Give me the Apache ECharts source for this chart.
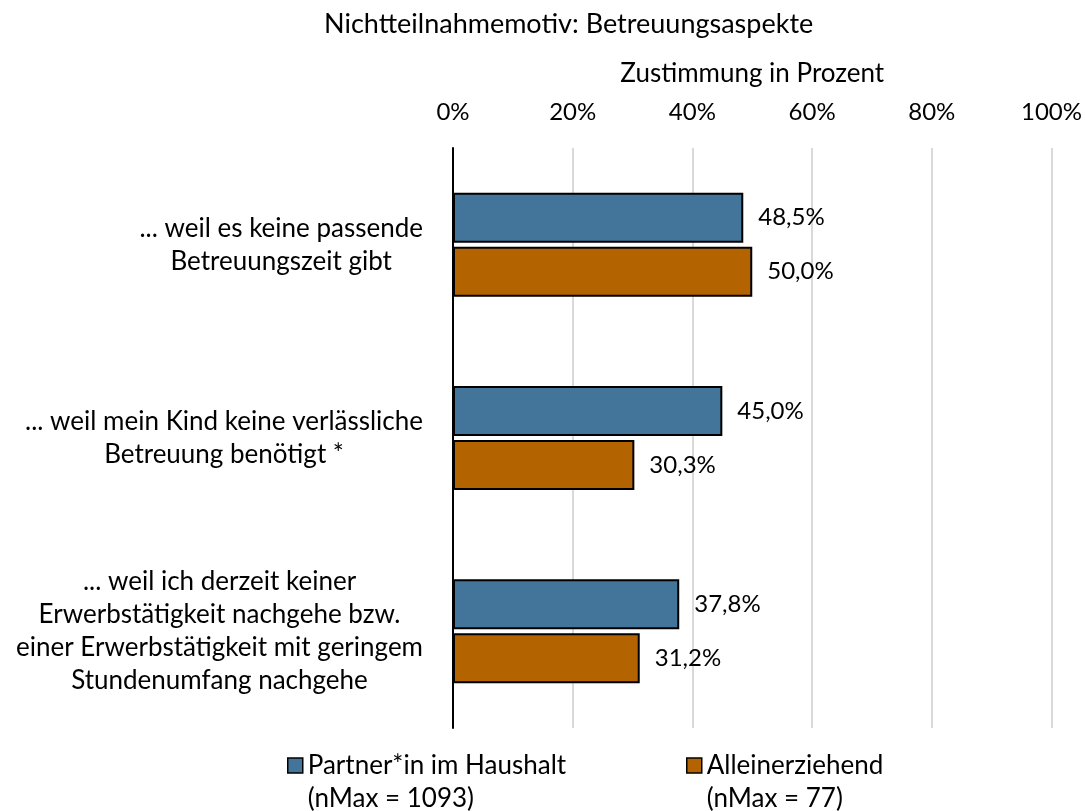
<!DOCTYPE html>
<html>
<head>
<meta charset="utf-8">
<script src="https://cdn.jsdelivr.net/npm/echarts@6/dist/echarts.min.js"></script>
<style>
html,body{margin:0;padding:0;background:#fff;}
#chart{width:1085px;height:811px;}
</style>
</head>
<body>
<div id="chart"></div>
<script>
const categories = [
  '... weil es keine passende\nBetreuungszeit gibt',
  '... weil mein Kind keine verlässliche\nBetreuung benötigt *',
  '... weil ich derzeit keiner\nErwerbstätigkeit nachgehe bzw.\neiner Erwerbstätigkeit mit geringem\nStundenumfang nachgehe'
];
const seriesNames = ['Partner*in im Haushalt', 'Alleinerziehend'];
const seriesNotes = ['(nMax = 1093)', '(nMax = 77)'];
const partnerValues = [48.5, 45.0, 37.8];
const alleinValues = [50.0, 30.3, 31.2];
const tickValues = [0, 20, 40, 60, 80, 100];

const FONT = 'Lato, "Open Sans", sans-serif';
const FS = 26;      // text size
const FSN = 24;     // numeric labels
const colors = ['#43749a', '#b36400'];

const chart = echarts.init(document.getElementById('chart'));

function fmtPct(v){ return v.toFixed(1).replace('.', ',') + '%'; }

function makeSeries(idx, values){
  return {
    type: 'bar',
    name: seriesNames[idx],
    data: values,
    barWidth: 50,
    barGap: '8%',
    itemStyle: { color: colors[idx], borderColor: '#000', borderWidth: 2 },
    label: {
      show: true, position: 'right', distance: 15,
      fontFamily: FONT, fontSize: FSN, color: '#000',
      formatter: p => fmtPct(p.value)
    }
  };
}

function makeLegend(idx, left){
  return {
    data: [seriesNames[idx]],
    left: left, top: 711,
    icon: 'rect', itemWidth: 15, itemHeight: 15, itemGap: 6,
    itemStyle: { borderColor: '#000', borderWidth: 1.5 },
    formatter: name => '\n' + name + '\n' + seriesNotes[idx],
    textStyle: { fontFamily: FONT, fontSize: FS, color: '#000', lineHeight: 33 }
  };
}

chart.setOption({
  backgroundColor: '#fff',
  animation: false,
  title: {
    text: 'Nichtteilnahmemotiv: Betreuungsaspekte',
    left: 319, top: 6,
    textStyle: { fontFamily: FONT, fontSize: 27, fontWeight: 'normal', color: '#000' }
  },
  legend: [ makeLegend(0, 282), makeLegend(1, 681) ],
  grid: { left: 453, right: 32, top: 148, bottom: 83 },
  xAxis: {
    type: 'value', position: 'top',
    min: tickValues[0], max: tickValues[tickValues.length - 1], interval: 20,
    name: 'Zustimmung in Prozent', nameLocation: 'middle', nameGap: 61,
    nameTextStyle: { fontFamily: FONT, fontSize: FS, color: '#000' },
    axisLine: { show: false }, axisTick: { show: false },
    axisLabel: { fontFamily: FONT, fontSize: FSN, color: '#000', margin: 24, formatter: '{value}%' },
    splitLine: { show: true, lineStyle: { color: '#d9d9d9', width: 2 } }
  },
  yAxis: {
    type: 'category', inverse: true, data: categories,
    axisLine: { show: true, lineStyle: { color: '#000', width: 2 } },
    axisTick: { show: false },
    axisLabel: {
      margin: 30, align: 'right',
      formatter: v => v.split('\n').map(l => '{c|' + l + '}').join('\n'),
      rich: { c: { align: 'center', fontFamily: FONT, fontSize: FS, color: '#000', lineHeight: 33 } }
    }
  },
  series: [ makeSeries(0, partnerValues), makeSeries(1, alleinValues) ]
});
</script>
</body>
</html>
